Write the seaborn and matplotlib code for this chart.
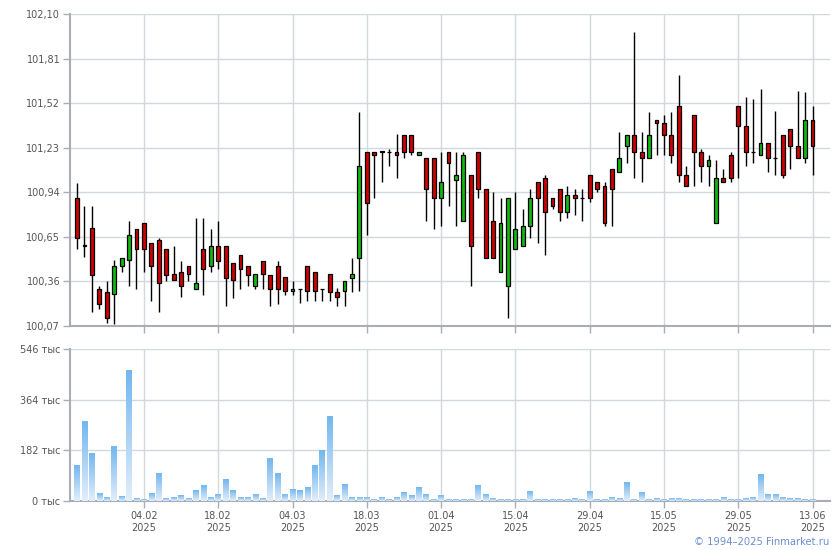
import numpy as np
import pandas as pd
import matplotlib
matplotlib.use("Agg")
import matplotlib.pyplot as plt
import seaborn as sns
from matplotlib.ticker import FuncFormatter

# daily quotes, 22.01.2025 - 13.06.2025
opens = [100.90, 100.59, 100.71, 100.31, 100.29, 100.28, 100.46, 100.50, 100.70, 100.74,
         100.61, 100.63, 100.57, 100.41, 100.42, 100.46, 100.31, 100.57, 100.46, 100.59,
         100.59, 100.48, 100.53, 100.46, 100.33, 100.49, 100.40, 100.46, 100.39, 100.30,
         100.31, 100.46, 100.42, 100.31, 100.41, 100.29, 100.30, 100.38, 100.51, 101.20,
         101.20, 101.21, 101.20, 101.20, 101.31, 101.31, 101.18, 101.16, 101.16, 100.90,
         101.20, 101.02, 100.75, 101.05, 101.20, 100.96, 100.75, 100.42, 100.33, 100.57,
         100.59, 100.72, 101.01, 101.03, 100.90, 100.96, 100.81, 100.92, 100.90, 101.05,
         101.01, 100.98, 101.09, 101.07, 101.24, 101.31, 101.20, 101.16, 101.41, 101.39,
         101.31, 101.50, 101.05, 101.44, 101.20, 101.11, 100.74, 101.03, 101.18, 101.50,
         101.37, 101.20, 101.18, 101.26, 101.16, 101.31, 101.35, 101.24, 101.16, 101.41]
highs = [101.00, 100.85, 100.85, 100.33, 100.36, 100.50, 100.515, 100.75, 100.70, 100.74,
         100.61, 100.64, 100.57, 100.59, 100.49, 100.46, 100.77, 100.77, 100.70, 100.75,
         100.59, 100.48, 100.53, 100.46, 100.41, 100.49, 100.40, 100.49, 100.39, 100.36,
         100.31, 100.46, 100.42, 100.31, 100.41, 100.32, 100.36, 100.51, 101.46, 101.20,
         101.20, 101.21, 101.22, 101.32, 101.31, 101.31, 101.20, 101.16, 101.16, 101.20,
         101.20, 101.20, 101.20, 101.05, 101.20, 100.96, 100.94, 100.90, 100.90, 100.94,
         100.83, 100.96, 101.01, 101.05, 100.90, 100.96, 100.98, 100.96, 100.96, 101.05,
         101.01, 101.01, 101.09, 101.33, 101.31, 101.98, 101.33, 101.46, 101.41, 101.44,
         101.46, 101.70, 101.11, 101.44, 101.22, 101.18, 101.15, 101.09, 101.20, 101.50,
         101.56, 101.55, 101.61, 101.26, 101.47, 101.31, 101.35, 101.60, 101.59, 101.50]
lows = [100.57, 100.52, 100.16, 100.18, 100.09, 100.08, 100.42, 100.33, 100.31, 100.42,
        100.23, 100.16, 100.36, 100.37, 100.26, 100.36, 100.31, 100.27, 100.42, 100.44,
        100.20, 100.25, 100.31, 100.33, 100.31, 100.31, 100.20, 100.21, 100.27, 100.27,
        100.22, 100.23, 100.23, 100.23, 100.23, 100.20, 100.20, 100.29, 100.30, 100.66,
        100.90, 101.01, 101.11, 101.03, 101.16, 101.18, 101.18, 100.75, 100.70, 100.72,
        100.85, 100.72, 100.75, 100.33, 100.90, 100.51, 100.51, 100.42, 100.12, 100.57,
        100.59, 100.64, 100.61, 100.53, 100.83, 100.75, 100.77, 100.79, 100.75, 100.88,
        100.94, 100.72, 100.72, 101.07, 101.13, 101.03, 101.01, 101.16, 101.18, 101.18,
        101.13, 101.01, 100.98, 100.98, 101.01, 100.98, 100.74, 101.01, 101.01, 101.03,
        101.11, 101.13, 101.18, 101.07, 101.05, 101.03, 101.09, 101.16, 101.13, 101.05]
closes = [100.64, 100.60, 100.40, 100.21, 100.12, 100.46, 100.51, 100.66, 100.57, 100.57,
          100.46, 100.35, 100.40, 100.37, 100.33, 100.41, 100.35, 100.44, 100.59, 100.49,
          100.38, 100.37, 100.44, 100.40, 100.41, 100.41, 100.31, 100.31, 100.30, 100.31,
          100.31, 100.30, 100.30, 100.31, 100.29, 100.26, 100.36, 100.41, 101.11, 100.87,
          101.18, 101.20, 101.20, 101.18, 101.20, 101.20, 101.20, 100.96, 100.90, 101.01,
          101.13, 101.05, 101.18, 100.59, 100.96, 100.51, 100.51, 100.74, 100.90, 100.70,
          100.72, 100.90, 100.90, 100.81, 100.85, 100.81, 100.92, 100.90, 100.90, 100.90,
          100.96, 100.74, 100.96, 101.16, 101.31, 101.20, 101.16, 101.31, 101.39, 101.31,
          101.18, 101.05, 100.98, 101.20, 101.11, 101.15, 101.03, 101.01, 101.03, 101.37,
          101.20, 101.20, 101.26, 101.16, 101.16, 101.05, 101.24, 101.16, 101.41, 101.24]
# volume, thousands
volumes = [127, 285, 170, 26, 12, 195, 16, 468, 8, 5,
           26, 98, 8, 12, 19, 8, 37, 55, 12, 23,
           77, 37, 12, 12, 23, 8, 152, 98, 23, 41,
           37, 48, 127, 181, 303, 19, 59, 14, 14, 11,
           4, 11, 4, 11, 29, 18, 47, 22, 4, 18,
           7, 4, 4, 4, 54, 22, 8, 4, 4, 4,
           4, 34, 4, 4, 4, 4, 4, 8, 4, 34,
           4, 4, 12, 8, 66, 4, 30, 4, 8, 4,
           8, 8, 4, 4, 4, 4, 4, 12, 4, 4,
           8, 12, 95, 23, 23, 12, 8, 8, 4, 4]

tick_sessions = [9, 19, 29, 39, 49, 59, 69, 79, 89, 99]
tick_dates = ["04.02", "18.02", "04.03", "18.03", "01.04",
              "15.04", "29.04", "15.05", "29.05", "13.06"]
price_ticks = [100.07, 100.36, 100.65, 100.94, 101.23, 101.52, 101.81, 102.10]
volume_ticks = [0, 182, 364, 546]

df = pd.DataFrame({"open": opens, "high": highs, "low": lows,
                   "close": closes, "volume": volumes})
df["session"] = np.arange(len(df))

sns.set_theme(style="white")
plt.rcParams['font.family'] = ['DejaVu Sans']

grid_c = "#d3d8dd"
spine_c = "#a9adb7"
text_c = "#555555"

fig = plt.figure(figsize=(8.4, 5.5), dpi=100)
ax = fig.add_axes([70 / 840, 1 - 326 / 550, 760 / 840, 312 / 550])
axv = fig.add_axes([70 / 840, 1 - 501 / 550, 760 / 840, 152 / 550])

# candles
up = df["close"] >= df["open"]
colors = np.where(up, "#12b812", "#d10000")
ax.vlines(df["session"], df["low"], df["high"], color="black", lw=1.0, zorder=2)
ax.bar(df["session"], (df["close"] - df["open"]).abs(),
       bottom=df[["open", "close"]].min(axis=1), width=0.52,
       color=colors, edgecolor="black", linewidth=0.9, zorder=3)

# volume bars with gradient fill
sns.barplot(data=df, x="session", y="volume", ax=axv, width=0.75,
            color="#7bbcf0", saturation=1)
grad = np.linspace(0, 1, 64).reshape(-1, 1)
cmap = matplotlib.colors.LinearSegmentedColormap.from_list("vol", ["#e2eefa", "#73b7ef"])
for p in list(axv.patches):
    x0, w, h = p.get_x(), p.get_width(), p.get_height()
    p.set_visible(False)
    axv.imshow(grad, extent=[x0, x0 + w, 0, h], origin="lower", cmap=cmap,
               aspect="auto", zorder=3)

for a in (ax, axv):
    a.set_xlim(-0.95, 101.35)
    a.set_xticks(tick_sessions)
    a.grid(True, color=grid_c, lw=1)
    a.set_axisbelow(True)
    for s in ("top", "right"):
        a.spines[s].set_visible(False)
    for s in ("left", "bottom"):
        a.spines[s].set_color(spine_c)
        a.spines[s].set_linewidth(1.5)
    a.tick_params(axis="both", direction="out", length=5, width=1, color=spine_c,
                  labelcolor=text_c, labelsize=7, pad=2, left=True, bottom=True)
    a.set_xlabel("")
    a.set_ylabel("")

ax.set_ylim(100.07, 102.10)
ax.set_yticks(price_ticks)
ax.yaxis.set_major_formatter(FuncFormatter(lambda v, p: f"{v:.2f}".replace(".", ",")))
ax.set_xticklabels([])

axv.set_ylim(0, 546)
axv.set_yticks(volume_ticks)
axv.set_yticklabels([f"{v} тыс" for v in volume_ticks])
axv.set_xticklabels([f"{d}\n2025" for d in tick_dates], linespacing=1.25)

fig.text(829 / 840, 1 - 542 / 550, "© 1994–2025 Finmarket.ru", ha="right", va="center",
         fontsize=7.2, color="#6c8fd6")

fig.savefig("out.png", dpi=100, facecolor="white")
